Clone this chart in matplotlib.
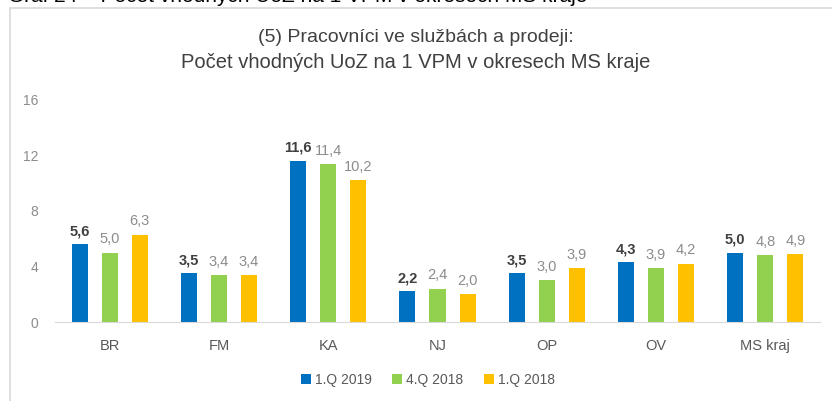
import matplotlib.pyplot as plt
import numpy as np
from matplotlib.patches import Rectangle

plt.rcParams['font.family'] = ['Liberation Sans', 'DejaVu Sans']

okresy = ['BR', 'FM', 'KA', 'NJ', 'OP', 'OV', 'MS kraj']
q1_2019 = [5.6, 3.5, 11.6, 2.2, 3.5, 4.3, 5.0]
q4_2018 = [5.0, 3.4, 11.4, 2.4, 3.0, 3.9, 4.8]
q1_2018 = [6.3, 3.4, 10.2, 2.0, 3.9, 4.2, 4.9]
serie = ['1.Q 2019', '4.Q 2018', '1.Q 2018']
barvy = ['#0070C0', '#92D050', '#FFC000']
yticks = [0, 4, 8, 12, 16]

fig = plt.figure(figsize=(8.32, 4.01), dpi=100)

# ramecek grafu
fig.patches.append(Rectangle((10/832, -0.1), 1.0, 1 - 8/401 + 0.1,
                             transform=fig.transFigure, fill=False,
                             edgecolor='#d9d9d9', lw=1.2))

# useknuty nadpis nahore (v originale je z vetsi casti mimo obrazek)
fig.text(8/832, 1 - 2/401, 'Graf 24 \u2013 Počet vhodných UoZ na 1 VPM v okresech MS kraje',
         fontsize=15, color='#000000', va='baseline', ha='left')

ax = fig.add_axes([55/832, 1 - 322/401, 765/832, 222/401])

x = np.arange(len(okresy))
w = 0.147
krok = 0.275
data = [q1_2019, q4_2018, q1_2018]
for i, (vals, c, s) in enumerate(zip(data, barvy, serie)):
    pos = x + (i - 1) * krok
    ax.bar(pos, vals, w, color=c, label=s)
    for p, v in zip(pos, vals):
        lab = ('%.1f' % v).replace('.', ',')
        if i == 0:
            ax.text(p, v + 0.45, lab, ha='center', va='bottom', fontsize=10.5,
                    fontweight='bold', color='#404040')
        else:
            ax.text(p, v + 0.45, lab, ha='center', va='bottom', fontsize=10.5,
                    color='#8c8c8c')

ax.set_xlim(-0.5, len(okresy) - 0.5)
ax.set_ylim(0, 16)
ax.set_yticks(yticks)
ax.set_yticklabels([str(t) for t in yticks], color='#8c8c8c', fontsize=10)
ax.set_xticks(x)
ax.set_xticklabels(okresy, color='#595959', fontsize=10.5)
ax.tick_params(length=0)
ax.tick_params(axis='y', pad=12)
ax.tick_params(axis='x', pad=12)
for sp in ['top', 'right', 'left']:
    ax.spines[sp].set_visible(False)
ax.spines['bottom'].set_color('#d9d9d9')

fig.text(0.5, 1 - 37/401, '(5) Pracovníci ve službách a prodeji:', ha='center', va='center',
         fontsize=14, color='#404040')
fig.text(0.5, 1 - 62/401, 'Počet vhodných UoZ na 1 VPM v okresech MS kraje', ha='center',
         va='center', fontsize=14.5, color='#404040')

leg = fig.legend(loc='center', bbox_to_anchor=(428/832, 1 - 380/401), ncol=3, frameon=False,
                 fontsize=10, handlelength=0.7, handleheight=0.7, handletextpad=0.3,
                 columnspacing=1.5)
for t in leg.get_texts():
    t.set_color('#595959')

fig.savefig('out.png', dpi=100)
